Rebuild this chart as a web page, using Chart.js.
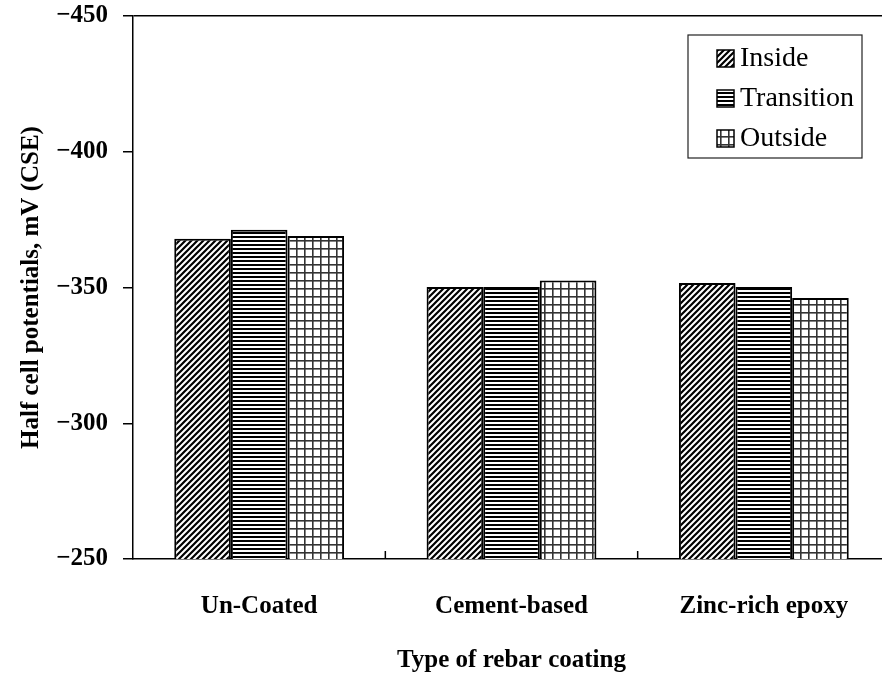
<!DOCTYPE html>
<html>
<head>
<meta charset="utf-8">
<script src="https://cdn.jsdelivr.net/npm/chart.js@4"></script>
<style>
html, body { margin: 0; padding: 0; background: #fff; overflow: hidden; }
</style>
</head>
<body>
<canvas id="chart" width="890" height="673"></canvas>
<script>
// values (mV, CSE)
const coatings = ['Un-Coated', 'Cement-based', 'Zinc-rich epoxy'];
const seriesNames = ['Inside', 'Transition', 'Outside'];
const inside = [-368.0, -350.2, -351.7];
const transition = [-371.3, -350.2, -350.2];
const outside = [-369.0, -352.6, -346.1];
const yTicks = [-450, -400, -350, -300, -250];

const font = { family: '"Liberation Serif", "Times New Roman", serif', size: 25, weight: 'bold' };

// hatch fills, one per series
function makePattern(kind) {
    const c = document.createElement('canvas');
    const g = c.getContext('2d');
    if (kind === 'diag') {
        c.width = 6; c.height = 6;
        g.fillStyle = '#fff'; g.fillRect(0, 0, 6, 6);
        g.strokeStyle = '#000'; g.lineWidth = 2.2;
        g.beginPath();
        g.moveTo(-1, 7); g.lineTo(7, -1);
        g.moveTo(-1, 1); g.lineTo(1, -1);
        g.moveTo(5, 7); g.lineTo(7, 5);
        g.stroke();
    } else if (kind === 'horiz') {
        c.width = 4; c.height = 4;
        g.fillStyle = '#fff'; g.fillRect(0, 0, 4, 4);
        g.fillStyle = '#000'; g.fillRect(0, 0, 4, 2);
    } else {
        c.width = 8; c.height = 8;
        g.fillStyle = '#fff'; g.fillRect(0, 0, 8, 8);
        g.fillStyle = '#333';
        g.fillRect(0, 0, 8, 1.6);
        g.fillRect(0, 0, 1.6, 8);
    }
    return g.createPattern(c, 'repeat');
}

const fills = [makePattern('diag'), makePattern('horiz'), makePattern('grid')];

// legend box in the upper right + small inner ticks between categories
const extras = {
    id: 'extras',
    afterDraw(chart) {
        const ctx = chart.ctx;
        const x = chart.scales.x;
        ctx.save();
        ctx.strokeStyle = '#000';
        ctx.lineWidth = 1.5;
        for (let i = 1; i < coatings.length; i++) {
            const px = (x.getPixelForValue(i - 1) + x.getPixelForValue(i)) / 2;
            ctx.beginPath();
            ctx.moveTo(px, x.top);
            ctx.lineTo(px, x.top - 8);
            ctx.stroke();
        }

        const bx = 688, by = 35, bw = 174, bh = 123;
        ctx.lineWidth = 1.2;
        ctx.strokeStyle = '#222';
        ctx.fillStyle = '#fff';
        ctx.fillRect(bx, by, bw, bh);
        ctx.strokeRect(bx, by, bw, bh);
        ctx.font = '28px "Liberation Serif", "Times New Roman", serif';
        ctx.textBaseline = 'middle';
        chart.data.datasets.forEach((ds, i) => {
            const cy = 58 + i * 40;
            ctx.fillStyle = ds.backgroundColor;
            ctx.fillRect(717, cy - 8, 17, 17);
            ctx.lineWidth = 1.5;
            ctx.strokeStyle = '#000';
            ctx.strokeRect(717, cy - 8, 17, 17);
            ctx.fillStyle = '#000';
            ctx.fillText(ds.label, 740, cy + 1);
        });
        ctx.restore();
    }
};

new Chart(document.getElementById('chart'), {
    type: 'bar',
    data: {
        labels: coatings,
        datasets: [
            { label: seriesNames[0], data: inside, backgroundColor: fills[0] },
            { label: seriesNames[1], data: transition, backgroundColor: fills[1] },
            { label: seriesNames[2], data: outside, backgroundColor: fills[2] }
        ]
    },
    options: {
        responsive: false,
        animation: false,
        layout: { padding: { top: 16, left: 0, right: 0, bottom: 0 } },
        datasets: {
            bar: {
                borderColor: '#000',
                borderWidth: 2,
                categoryPercentage: 0.673,
                barPercentage: 1
            }
        },
        plugins: {
            legend: { display: false },
            tooltip: { enabled: false }
        },
        scales: {
            x: {
                afterFit: s => { s.height = 114; s.paddingLeft = 0; s.paddingRight = 0; },
                border: { color: '#000', width: 1.5 },
                grid: { drawOnChartArea: false, drawTicks: false },
                ticks: { color: '#000', font: font, padding: 33 },
                title: {
                    display: true,
                    text: 'Type of rebar coating',
                    color: '#000',
                    font: Object.assign({}, font, { lineHeight: 1 }),
                    padding: { top: 0, bottom: 0 }
                }
            },
            y: {
                reverse: true,
                min: -450,
                max: -250,
                afterBuildTicks: s => { s.ticks = yTicks.map(v => ({ value: v })); },
                afterFit: s => { s.width = 133; s.paddingTop = 0; s.paddingBottom = 0; },
                border: { color: '#000', width: 1.5 },
                grid: {
                    color: c => (c.tick && c.tick.value === -450) ? '#000' : 'rgba(0,0,0,0)',
                    lineWidth: 1.5,
                    tickColor: '#000',
                    tickLength: 10
                },
                ticks: {
                    color: '#000',
                    font: font,
                    padding: 15,
                    callback: v => '\u2212' + Math.abs(v)
                },
                title: {
                    display: true,
                    text: 'Half cell potentials, mV (CSE)',
                    color: '#000',
                    font: font,
                    padding: { top: 17, bottom: 0 }
                }
            }
        }
    },
    plugins: [extras]
});
</script>
</body>
</html>
